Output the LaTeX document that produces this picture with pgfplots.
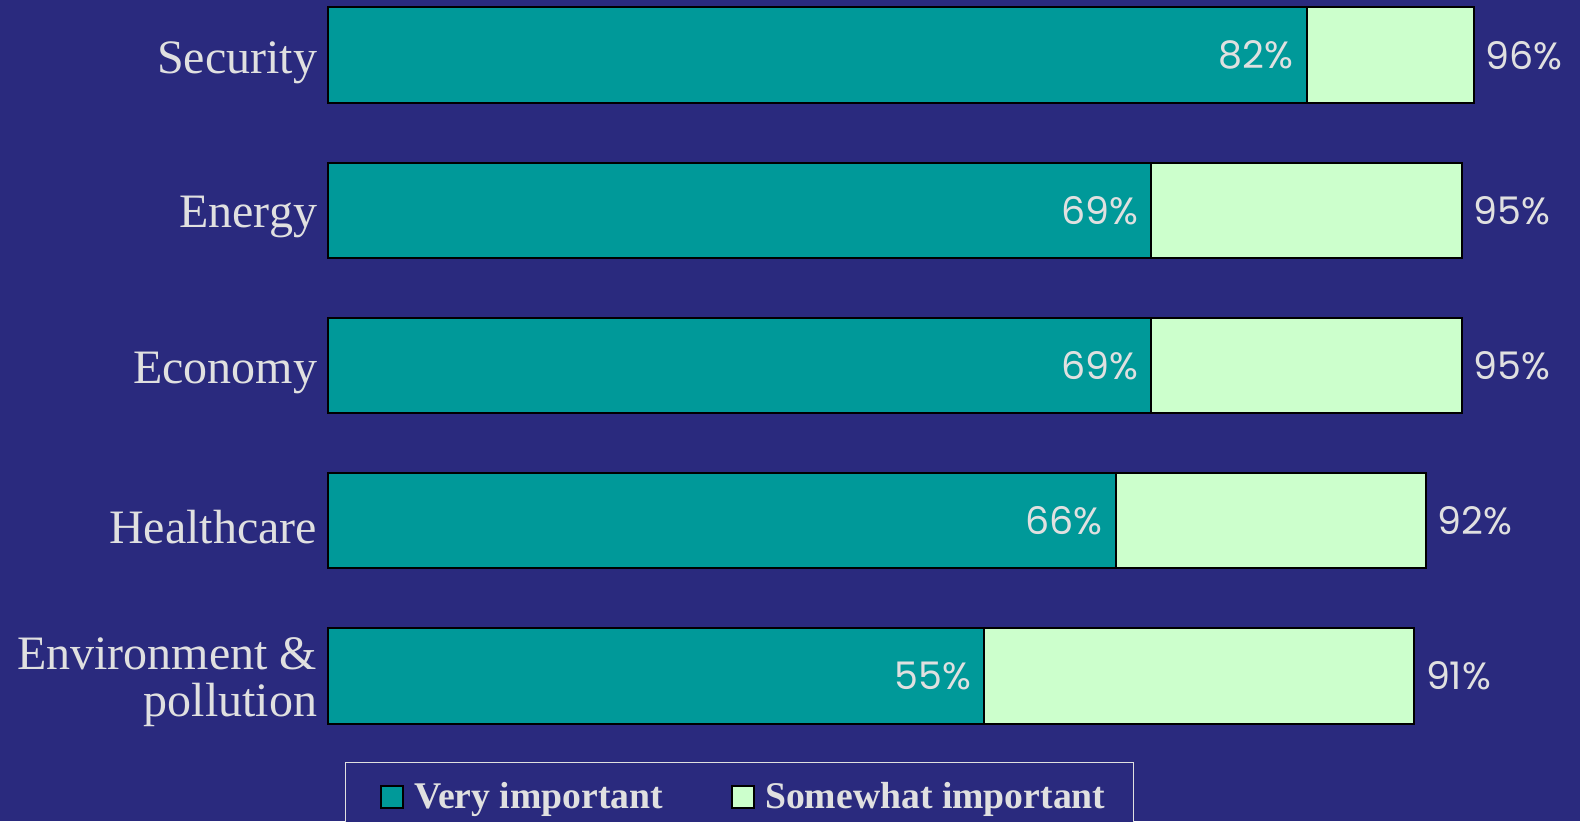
\documentclass[border=0pt]{standalone}
\usepackage{pgfplots}
\pgfplotsset{compat=1.18}
\usepackage{fontspec}
\setmainfont{Liberation Serif}
\newfontfamily\numfont{Poppins}
\definecolor{bg}{HTML}{2A2A7E}
\definecolor{teal1}{HTML}{009999}
\definecolor{lgreen}{HTML}{CCFFCC}
\definecolor{txt}{HTML}{E0E0E0}
\begin{document}
\begin{tikzpicture}
\path[use as bounding box] (0,0) rectangle (790pt,410.5pt);
\fill[bg] (0,0) rectangle (790pt,410.5pt);
\begin{scope}
\clip (0,0) rectangle (790pt,410.5pt);
\begin{axis}[
  at={(163.75pt,45.55pt)}, anchor=south west,
  scale only axis, width=597pt, height=364.4pt,
  xmin=0, xmax=100, ymin=-0.35, ymax=4.35,
  xbar, bar width=47.9pt, bar shift=0pt,
  axis line style={draw=none},
  xtick=\empty,
  ytick={0,1,2,3,4},
  yticklabels={{Environment \&\\pollution},Healthcare,Economy,Energy,Security},
  major tick length=0pt,
  yticklabel style={align=right, text=txt, font=\fontsize{24}{23.5}\selectfont, inner xsep=0pt, xshift=-5pt, yshift=-3.5pt},
  clip=false,
  point meta=explicit symbolic,
  legend columns=2,
  legend cell align=left,
  reverse legend,
  legend style={at={(0.0143,-0.0438)}, anchor=north west, fill=bg, draw=txt, line width=0.75pt,
    text=txt, font=\bfseries\fontsize{18.85}{20}\selectfont, inner xsep=12pt, inner ysep=8pt,
    /tikz/every even column/.append style={column sep=26.5pt}},
  legend image code/.code={\path (0pt,0pt) (19.5pt,0pt); \draw[#1, line width=0.9pt] (5.5pt,-5.5pt) rectangle (16.5pt,5.5pt);},
]
\addplot[fill=lgreen, draw=black, line width=1pt,
  nodes near coords={\pgfplotspointmeta\%},
  every node near coord/.style={anchor=west, text=txt, font=\numfont\fontsize{19}{21}\selectfont, inner xsep=5.5pt}]
  table[x=v, y=y, meta=m] {
  y v m
  4 96 96
  3 95 95
  2 95 95
  1 92 92
  0 91 91
};
\addlegendentry{Somewhat important}
\addplot[fill=teal1, draw=black, line width=1pt,
  nodes near coords={\pgfplotspointmeta\%},
  every node near coord/.style={anchor=east, text=txt, font=\numfont\fontsize{19}{21}\selectfont, inner xsep=6pt}]
  table[x=v, y=y, meta=m] {
  y v m
  4 82 82
  3 69 69
  2 69 69
  1 66 66
  0 55 55
};
\addlegendentry{Very important}
\end{axis}
\end{scope}
\end{tikzpicture}
\end{document}
